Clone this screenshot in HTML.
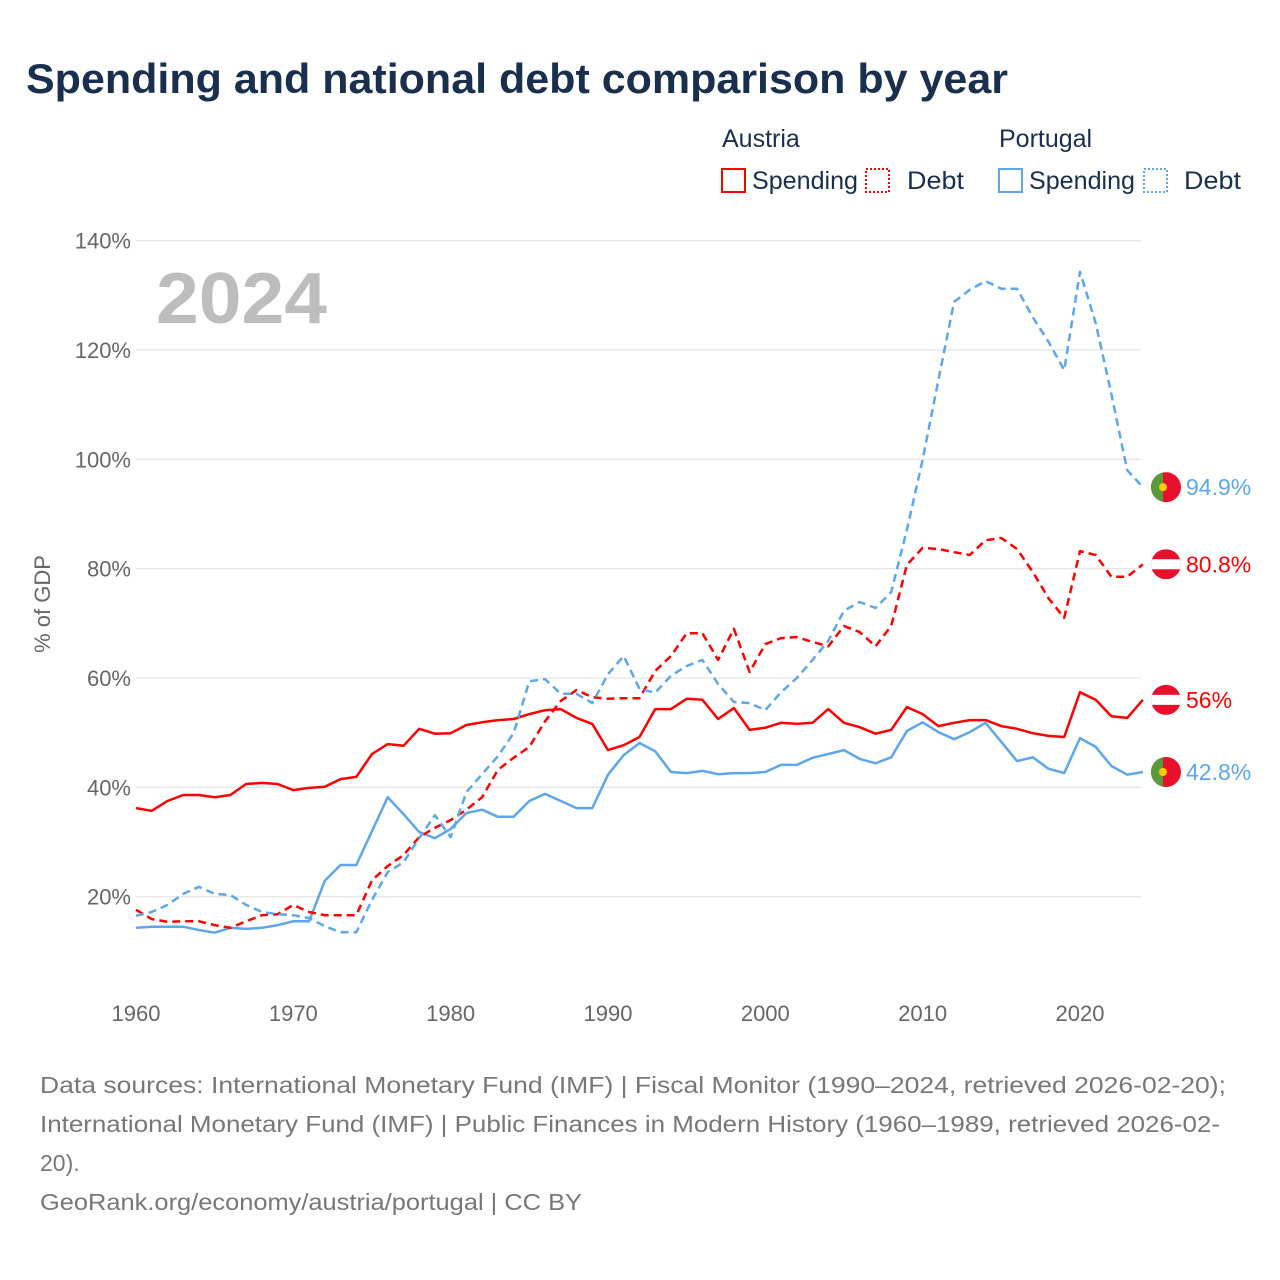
<!DOCTYPE html>
<html><head><meta charset="utf-8"><style>
body{margin:0;background:#fff;font-family:"Liberation Sans",sans-serif;}
#wrap{position:relative;width:1280px;height:1280px;overflow:hidden;background:#fff;}
</style></head><body>
<div id="wrap">
<svg id="chart" width="1280" height="1280" style="position:absolute;left:0;top:0">
<text x="26" y="93" font-size="42" font-weight="bold" fill="#1a2f4e" textLength="982" lengthAdjust="spacingAndGlyphs">Spending and national debt comparison by year</text>
<g font-size="25" fill="#1a2f4e">
<text x="722" y="147">Austria</text>
<text x="999" y="147">Portugal</text>
<g><rect x="722" y="169" width="23" height="23" fill="none" stroke="#ff0000" stroke-width="2"/><text x="752" y="189" textLength="106" lengthAdjust="spacingAndGlyphs">Spending</text></g>
<g><rect x="866" y="169" width="23" height="23" fill="none" stroke="#ff0000" stroke-width="2" stroke-dasharray="2,2"/><text x="907" y="189" textLength="57" lengthAdjust="spacingAndGlyphs">Debt</text></g>
<g><rect x="999" y="169" width="23" height="23" fill="none" stroke="#5ea6ea" stroke-width="2"/><text x="1029" y="189" textLength="106" lengthAdjust="spacingAndGlyphs">Spending</text></g>
<g><rect x="1144" y="169" width="23" height="23" fill="none" stroke="#5ea6ea" stroke-width="2" stroke-dasharray="2,2"/><text x="1184" y="189" textLength="57" lengthAdjust="spacingAndGlyphs">Debt</text></g>
</g>
<g id="grid"></g>
<text x="156" y="323" font-size="72" font-weight="bold" fill="#bdbdbd" textLength="171" lengthAdjust="spacingAndGlyphs">2024</text>
<text transform="translate(50,604) rotate(-90)" text-anchor="middle" font-size="22" fill="#666">% of GDP</text>
<g id="series"></g>
<g id="ends"></g>
<text x="40" y="1093" font-size="23" fill="#777" textLength="1186" lengthAdjust="spacingAndGlyphs">Data sources: International Monetary Fund (IMF) | Fiscal Monitor (1990–2024, retrieved 2026-02-20);</text>
<text x="40" y="1132" font-size="23" fill="#777" textLength="1180" lengthAdjust="spacingAndGlyphs">International Monetary Fund (IMF) | Public Finances in Modern History (1960–1989, retrieved 2026-02-</text>
<text x="40" y="1171" font-size="23" fill="#777">20).</text>
<text x="40" y="1210" font-size="23" fill="#777" textLength="542" lengthAdjust="spacingAndGlyphs">GeoRank.org/economy/austria/portugal | CC BY</text>
</svg>
</div>
<script>
const startYear = 1960;
const yTicks = [20, 40, 60, 80, 100, 120, 140];
const xTicks = [1960, 1970, 1980, 1990, 2000, 2010, 2020];
const austriaSpending = [36.2,35.7,37.5,38.6,38.6,38.2,38.6,40.6,40.8,40.6,39.5,39.9,40.1,41.5,41.9,46.1,47.9,47.6,50.7,49.8,49.9,51.4,51.9,52.3,52.5,53.4,54.1,54.3,52.7,51.6,46.8,47.7,49.2,54.3,54.3,56.2,56,52.5,54.5,50.5,50.9,51.8,51.6,51.8,54.3,51.8,51,49.8,50.5,54.7,53.4,51.2,51.8,52.3,52.3,51.2,50.7,49.9,49.4,49.2,57.4,56,53,52.7,56];
const austriaDebt = [17.6,15.9,15.4,15.5,15.5,14.8,14.3,15.5,16.6,16.8,18.5,17.2,16.6,16.6,16.6,23,25.6,27.6,30.9,32.6,34,35.9,38.2,43.2,45.4,47.4,52.1,55.8,57.8,56.5,56.2,56.3,56.3,61.3,64,68.2,68.2,63.3,69,61.1,66.2,67.3,67.5,66.6,65.8,69.5,68.4,65.8,69.5,80.7,83.8,83.6,83,82.5,85.2,85.6,83.6,79.4,74.6,71,83.2,82.5,78.5,78.5,80.8];
const portugalSpending = [14.3,14.5,14.5,14.5,13.9,13.4,14.3,14.1,14.3,14.8,15.5,15.5,22.9,25.8,25.8,32,38.2,35.1,31.8,30.7,32.4,35.3,35.9,34.6,34.6,37.5,38.8,37.5,36.2,36.2,42.3,45.9,48.1,46.6,42.8,42.6,43,42.4,42.6,42.6,42.8,44.1,44.1,45.4,46.1,46.8,45.2,44.4,45.5,50.3,51.9,50.1,48.8,50.1,51.8,48.3,44.8,45.5,43.4,42.6,49,47.4,43.9,42.3,42.8];
const portugalDebt = [16.5,17.2,18.5,20.5,21.8,20.5,20.3,18.5,17.2,16.8,16.6,16.1,14.6,13.5,13.5,19.4,24.5,26.3,30.7,34.9,30.9,39.1,42.4,45.7,49.9,59.4,59.8,57.1,57.1,55.4,60.7,64,58,57.3,60.4,62.2,63.3,58.9,55.6,55.4,54.1,57.4,60,63.3,66.8,72.3,73.9,72.8,75.7,87.1,99.9,114.5,128.8,131,132.6,131.2,131.2,126,121.5,116.3,134.3,124.9,111.9,98,94.9];

const NS='http://www.w3.org/2000/svg';
const xS = yr => 136 + (yr-1960)*15.733;
const yS = v => 1006 - v*5.467;
function mk(tag, attrs, parent){const e=document.createElementNS(NS,tag);for(const k in attrs)e.setAttribute(k,attrs[k]);parent.appendChild(e);return e;}
const grid=document.getElementById('grid');
yTicks.forEach(t=>{
  const l=mk('line',{x1:136,x2:1141,y1:yS(t),y2:yS(t),stroke:'#e6e6e6','stroke-width':1.3},grid);
  
  
  const tx=mk('text',{x:131,y:yS(t)+8,'text-anchor':'end','font-size':22,fill:'#666'},grid);
  tx.textContent=t+'%';
  
  
});
xTicks.forEach(t=>{
  const tx=mk('text',{x:xS(t),y:1021,'text-anchor':'middle','font-size':22,fill:'#666'},grid);
  tx.textContent=t;
  
  
});
const series=document.getElementById('series');
function draw(arr,color,dash,name){
  const d=arr.map((v,i)=>(i?'L':'M')+xS(startYear+i).toFixed(1)+','+yS(v).toFixed(1)).join('');
  const p=mk('path',{d:d,fill:'none',stroke:color,'stroke-width':2.5,'stroke-linejoin':'round'},series);
  if(dash)p.setAttribute('stroke-dasharray','8,5');
  
  
}
draw(austriaSpending,'#ff0000',false,'line-austria-spending');
draw(portugalSpending,'#5ea6ea',false,'line-portugal-spending');
draw(austriaDebt,'#ff0000',true,'line-austria-debt');
draw(portugalDebt,'#5ea6ea',true,'line-portugal-debt');

const ends=document.getElementById('ends');
function endLabel(arr,color,country,name){
  const v=arr[arr.length-1]; const y=yS(v); const cx=1166;
  const g=mk('g',{},ends);
  
  
  const cp=mk('clipPath',{id:'c'+name},g);
  mk('circle',{cx:cx,cy:y,r:15},cp);
  const f=mk('g',{'clip-path':'url(#c'+name+')'},g);
  if(country==='AT'){
    mk('rect',{x:cx-15,y:y-15,width:30,height:30,fill:'#e8112d'},f);
    mk('rect',{x:cx-15,y:y-5,width:30,height:10,fill:'#fff'},f);
  }else{
    mk('rect',{x:cx-15,y:y-15,width:30,height:30,fill:'#e8112d'},f);
    mk('rect',{x:cx-15,y:y-15,width:12,height:30,fill:'#5a9a3a'},f);
    mk('circle',{cx:cx-3,cy:y,r:4,fill:'#f5d000'},f);
  }
  const t=mk('text',{x:1186,y:y+8,'font-size':23,fill:color},g);
  t.textContent=(Math.round(v*10)/10)+'%';
}
endLabel(portugalDebt,'#5ea6ea','PT','end-label-portugal-debt');
endLabel(austriaDebt,'#ff0000','AT','end-label-austria-debt');
endLabel(austriaSpending,'#ff0000','AT','end-label-austria-spending');
endLabel(portugalSpending,'#5ea6ea','PT','end-label-portugal-spending');
</script>
</body></html>
